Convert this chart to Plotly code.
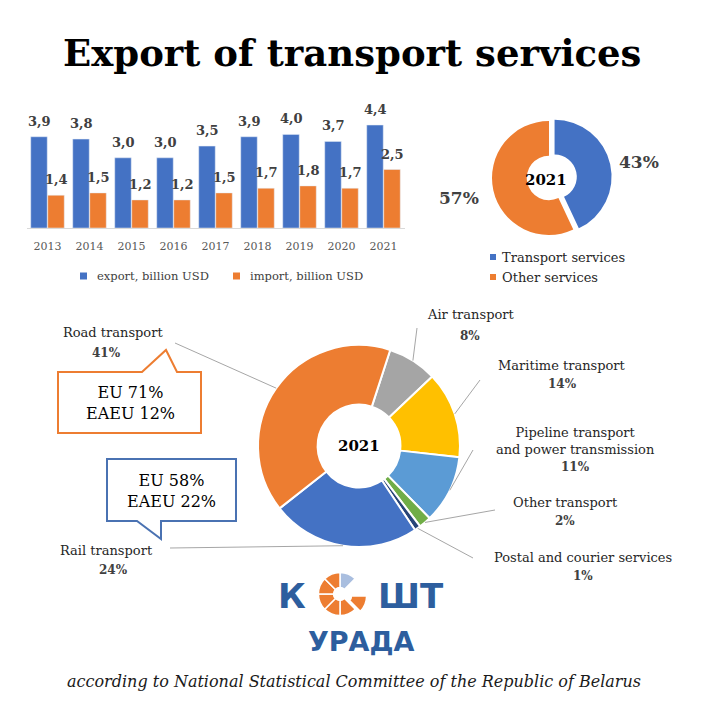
import math
import plotly.graph_objects as go

W, H = 701, 703

def px(x):
    return x / W

def py(y):
    return 1 - y / H

# ---- data ----
years = ['2013', '2014', '2015', '2016', '2017', '2018', '2019', '2020', '2021']
export_vals = [3.9, 3.8, 3.0, 3.0, 3.5, 3.9, 4.0, 3.7, 4.4]
import_vals = [1.4, 1.5, 1.2, 1.2, 1.5, 1.7, 1.8, 1.7, 2.5]
bar_names = ['export, billion USD', 'import, billion USD']

share_labels = ['Transport services', 'Other services']
share_vals = [43, 57]

mode_labels = ['Air transport', 'Maritime transport',
               'Pipeline transport<br>and power transmission',
               'Other transport', 'Postal and courier services',
               'Rail transport', 'Road transport']
mode_vals = [8, 14, 11, 2, 1, 24, 41]

road_partners = ['EU 71%', 'EAEU 12%']
rail_partners = ['EU 58%', 'EAEU 22%']

year_label = '2021'

BLUE = '#4472C4'
ORANGE = '#ED7D31'
mode_colors = ['#A5A5A5', '#FFC000', '#5B9BD5', '#70AD47', '#264478', BLUE, ORANGE]
SERIF = 'DejaVu Serif'
TXT = '#404040'
LOGO_BLUE = '#2D5E9E'

annotations = []
shapes = []

def note(x, y, text, size, color=TXT, family=SERIF, xanchor='center'):
    # x, y in picture pixels from the top-left corner
    annotations.append(dict(x=px(x), y=py(y), xref='paper', yref='paper',
                            xanchor=xanchor, yanchor='middle', showarrow=False,
                            text=text, font=dict(family=family, size=size, color=color)))

fig = go.Figure()

# ---- bar chart ----
fig.add_trace(go.Bar(x=years, y=export_vals, name=bar_names[0], marker_color=BLUE,
                     showlegend=False))
fig.add_trace(go.Bar(x=years, y=import_vals, name=bar_names[1], marker_color=ORANGE,
                     showlegend=False))

# value labels: x given as category index (numeric-looking year strings confuse the axis)
for i in range(len(years)):
    for vals, shift in ((export_vals, -8.5), (import_vals, 8.5)):
        annotations.append(dict(
            x=i, y=vals[i], xref='x', yref='y', xshift=shift, yshift=6,
            xanchor='center', yanchor='bottom', showarrow=False,
            text='<b>' + f'{vals[i]:.1f}'.replace('.', ',') + '</b>',
            font=dict(family=SERIF, size=13, color=TXT)))

# legend of bars
for (lx, name, col) in ((95, bar_names[0], BLUE), (248, bar_names[1], ORANGE)):
    shapes.append(dict(type='rect', xref='paper', yref='paper',
                       x0=px(lx - 15), x1=px(lx - 8), y0=py(279.5), y1=py(272.5),
                       fillcolor=col, line_width=0))
    note(lx, 276, name, 11.5, xanchor='left')

# ---- small donut ----
sc_x, sc_y, s_half = 549, 178, 62.7
fig.add_trace(go.Pie(labels=share_labels, values=share_vals, hole=0.39, sort=False,
                     direction='clockwise', rotation=0, pull=[0.1, 0],
                     marker=dict(colors=[BLUE, ORANGE]), textinfo='none',
                     showlegend=False,
                     domain=dict(x=[px(sc_x - s_half), px(sc_x + s_half)],
                                 y=[py(sc_y + s_half), py(sc_y - s_half)])))
note(546, 180, '<b>' + year_label + '</b>', 15, 'black')
for (lx, ly), v in zip(((639, 162), (459, 198)), share_vals):
    note(lx, ly, f'<b>{v}%</b>', 17)
for (ly, name, col) in ((257, share_labels[0], BLUE), (277, share_labels[1], ORANGE)):
    shapes.append(dict(type='rect', xref='paper', yref='paper',
                       x0=px(490), x1=px(496), y0=py(ly + 3), y1=py(ly - 3),
                       fillcolor=col, line_width=0))
    note(500, ly, name, 13, '#262626', xanchor='left')

# ---- big donut ----
bc_x, bc_y, b_r = 359, 446, 101
b_rot = 18
fig.add_trace(go.Pie(labels=mode_labels, values=mode_vals, hole=0.41, sort=False,
                     direction='clockwise', rotation=b_rot,
                     marker=dict(colors=mode_colors, line=dict(color='white', width=2)),
                     textinfo='none', showlegend=False,
                     domain=dict(x=[px(bc_x - b_r), px(bc_x + b_r)],
                                 y=[py(bc_y + b_r), py(bc_y - b_r)])))
note(bc_x, bc_y, '<b>' + year_label + '</b>', 15, 'black')

# label placement: (text x, name y, pct y, leader end x, leader end y)
label_pos = [(470, 315, 336, 417, 328),
             (562, 365, 384, 480, 380),
             (575, 440.5, 467, 473, 450),
             (565, 502, 521, 495, 510),
             (583, 557, 576, 473, 558),
             (106, 550, 570, 170, 548),
             (113, 333, 353, 175, 343)]
pct_x_adj = [0, 0, 0, 0, 0, 7, -7]

total = sum(mode_vals)
start = b_rot
for i, v in enumerate(mode_vals):
    span = 360 * v / total
    mid = math.radians(start + span / 2)
    start += span
    ix = bc_x + b_r * math.sin(mid)
    iy = bc_y - b_r * math.cos(mid)
    tx, ny, pyy, ex, ey = label_pos[i]
    shapes.append(dict(type='line', xref='paper', yref='paper',
                       x0=px(ix), y0=py(iy), x1=px(ex), y1=py(ey),
                       line=dict(color='#A6A6A6', width=1)))
    note(tx, ny, mode_labels[i], 13, '#262626')
    note(tx + pct_x_adj[i], pyy, f'<b>{v}%</b>', 12)

# ---- callouts ----
def path(pts):
    return 'M ' + ' L '.join(f'{px(x):.5f},{py(y):.5f}' for x, y in pts) + ' Z'

shapes.append(dict(type='path', xref='paper', yref='paper',
                   path=path([(58, 372), (142, 372), (166, 350), (177, 372), (201, 372),
                              (201, 433), (58, 433)]),
                   fillcolor='white', line=dict(color=ORANGE, width=2)))
shapes.append(dict(type='path', xref='paper', yref='paper',
                   path=path([(107, 459), (236, 459), (236, 521), (161, 521), (161, 539),
                              (137, 521), (107, 521)]),
                   fillcolor='white', line=dict(color='#4A72B2', width=2)))
note(130, 403, '<br>'.join(road_partners), 16, 'black')
note(171, 491, '<br>'.join(rail_partners), 16, 'black')

# ---- logo ----
logo_segments = [1, 1, 1, 1, 1, 1, 1, 1]
logo_colors = ['#A9BEDF', 'rgba(0,0,0,0)', ORANGE, ORANGE, ORANGE, ORANGE, ORANGE, ORANGE]
fig.add_trace(go.Pie(values=logo_segments, hole=0.3, sort=False, direction='clockwise',
                     rotation=0, pull=[0, 0, 0.25, 0, 0, 0, 0, 0],
                     marker=dict(colors=logo_colors, line=dict(color='white', width=1.5)),
                     textinfo='none', showlegend=False, hoverinfo='skip',
                     domain=dict(x=[px(340 - 27), px(340 + 27)], y=[py(594 + 27), py(594 - 27)])))
note(292, 596, '<b>К</b>', 34, LOGO_BLUE, 'DejaVu Sans')
note(411, 596, '<b>ШТ</b>', 34, LOGO_BLUE, 'DejaVu Sans')
note(361, 641, '<b>УРАДА</b>', 27, LOGO_BLUE, 'DejaVu Sans')

# ---- title and source ----
note(352, 53, '<b>Export of transport services</b>', 37, 'black')
note(354, 681, '<i>according to National Statistical Committee of the Republic of Belarus</i>',
     16, '#1a1a1a')

fig.update_layout(
    width=W, height=H,
    margin=dict(l=0, r=0, t=0, b=0),
    paper_bgcolor='white', plot_bgcolor='white',
    barmode='group', bargap=0.19, bargroupgap=0.03,
    xaxis=dict(type='category', domain=[px(26.5), px(404.5)],
               range=[-0.5, len(years) - 0.5], autorange=False,
               showgrid=False, showline=True,
               linecolor='#D9D9D9', ticks='', ticklabelstandoff=8,
               tickfont=dict(family=SERIF, size=11, color='#595959'), fixedrange=True),
    yaxis=dict(domain=[py(228), py(110)], range=[0, (228 - 110) / 23.4], autorange=False,
               visible=False, fixedrange=True),
    shapes=shapes,
    annotations=annotations,
)

fig.write_html('out.html', config={'displayModeBar': False},
               post_script="document.body.style.margin='0';")
